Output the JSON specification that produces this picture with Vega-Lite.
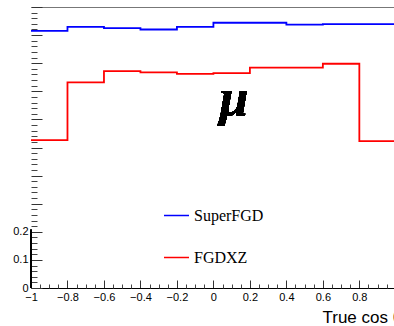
{
  "$schema": "https://vega.github.io/schema/vega-lite/v6.json",
  "autosize": "none",
  "width": 363,
  "height": 281,
  "padding": {"left": 31, "top": 7, "right": 0, "bottom": 38},
  "background": "white",
  "config": {"view": {"stroke": null}},
  "data": {
    "values": [
      {"series": "SuperFGD", "lo": -1.0, "hi": -0.8, "value": 0.915},
      {"series": "SuperFGD", "lo": -0.8, "hi": -0.6, "value": 0.929},
      {"series": "SuperFGD", "lo": -0.6, "hi": -0.4, "value": 0.925},
      {"series": "SuperFGD", "lo": -0.4, "hi": -0.2, "value": 0.920},
      {"series": "SuperFGD", "lo": -0.2, "hi": 0.0, "value": 0.929},
      {"series": "SuperFGD", "lo": 0.0, "hi": 0.2, "value": 0.944},
      {"series": "SuperFGD", "lo": 0.2, "hi": 0.4, "value": 0.944},
      {"series": "SuperFGD", "lo": 0.4, "hi": 0.6, "value": 0.937},
      {"series": "SuperFGD", "lo": 0.6, "hi": 0.8, "value": 0.939},
      {"series": "SuperFGD", "lo": 0.8, "hi": 1.0, "value": 0.939},
      {"series": "FGDXZ", "lo": -1.0, "hi": -0.8, "value": 0.526},
      {"series": "FGDXZ", "lo": -0.8, "hi": -0.6, "value": 0.732},
      {"series": "FGDXZ", "lo": -0.6, "hi": -0.4, "value": 0.772},
      {"series": "FGDXZ", "lo": -0.4, "hi": -0.2, "value": 0.767},
      {"series": "FGDXZ", "lo": -0.2, "hi": 0.0, "value": 0.762},
      {"series": "FGDXZ", "lo": 0.0, "hi": 0.2, "value": 0.765},
      {"series": "FGDXZ", "lo": 0.2, "hi": 0.4, "value": 0.784},
      {"series": "FGDXZ", "lo": 0.4, "hi": 0.6, "value": 0.784},
      {"series": "FGDXZ", "lo": 0.6, "hi": 0.8, "value": 0.798},
      {"series": "FGDXZ", "lo": 0.8, "hi": 1.0, "value": 0.523}
    ]
  },
  "layer": [
    {
      "transform": [{"fold": ["lo", "hi"], "as": ["edge", "x"]}],
      "mark": {"type": "line", "strokeWidth": 1.8, "clip": true},
      "encoding": {
        "x": {
          "field": "x", "type": "quantitative",
          "scale": {"domain": [-1, 0.99], "nice": false, "zero": false},
          "axis": {
            "orient": "bottom",
            "values": [-1, -0.8, -0.6, -0.4, -0.2, 0, 0.2, 0.4, 0.6, 0.8],
            "grid": false,
            "domain": true, "domainColor": "#000", "domainWidth": 1,
            "ticks": true, "tickColor": "#333", "tickWidth": 1, "tickSize": -8,
            "labelExpr": "replace(format(datum.value, '.2~f'), '-', '\u2212')",
            "labelFont": "Liberation Sans", "labelFontSize": 11, "labelColor": "#000",
            "labelPadding": 11, "labelOverlap": false, "labelFlush": false, "labelBound": false,
            "title": "True cos θ",
            "titleFont": "Liberation Sans", "titleFontSize": 17, "titleFontWeight": "normal", "titleColor": "#000",
            "titleAnchor": "start", "titleAlign": "left", "titleBaseline": "alphabetic",
            "titleX": 291, "titleY": 34
          }
        },
        "y": {
          "field": "value", "type": "quantitative",
          "scale": {"domain": [0, 1], "nice": false, "zero": true},
          "axis": {
            "orient": "left",
            "values": [0, 0.1, 0.2, 0.3, 0.4, 0.5, 0.6, 0.7, 0.8, 0.9, 1.0],
            "grid": false,
            "domain": false,
            "ticks": true, "tickColor": "#333", "tickWidth": 1, "tickSize": -11,
            "labelExpr": "datum.value <= 0.2001 ? format(datum.value, '.1~f') : ''",
            "labelFont": "Liberation Sans", "labelFontSize": 11, "labelColor": "#000",
            "labelPadding": 14, "labelOverlap": false, "labelFlush": false, "labelBound": false,
            "title": null
          }
        },
        "color": {
          "field": "series", "type": "nominal",
          "scale": {"domain": ["SuperFGD", "FGDXZ"], "range": ["#0000ff", "#ff0000"]},
          "legend": {
            "orient": "none", "legendX": 132, "legendY": 195,
            "title": null, "padding": 0,
            "symbolType": "stroke", "symbolSize": 625, "symbolStrokeWidth": 1.5,
            "labelFont": "Liberation Serif", "labelFontSize": 16, "labelColor": "#000",
            "labelOffset": 4, "rowPadding": 20
          }
        },
        "order": [{"field": "lo", "type": "quantitative"}, {"field": "x", "type": "quantitative"}]
      }
    },
    {
      "mark": {"type": "rule", "color": "#000", "strokeWidth": 1},
      "encoding": {
        "x": {"datum": -1, "type": "quantitative",
          "axis": {"orient": "top", "domain": true, "domainColor": "#777", "domainWidth": 1.2, "ticks": false, "labels": false, "grid": false, "title": null}},
        "y": {"datum": 0, "type": "quantitative",
          "axis": {
            "orient": "left",
            "values": [0.02,0.04,0.06,0.08,0.12,0.14,0.16,0.18,0.22,0.24,0.26,0.28,0.32,0.34,0.36,0.38,0.42,0.44,0.46,0.48,0.52,0.54,0.56,0.58,0.62,0.64,0.66,0.68,0.72,0.74,0.76,0.78,0.82,0.84,0.86,0.88,0.92,0.94,0.96,0.98],
            "grid": false, "domain": false, "labels": false, "title": null,
            "ticks": true, "tickColor": "#444", "tickWidth": 1, "tickSize": -6
          }},
        "y2": {"datum": 0.207}
      }
    },
    {
      "mark": {"type": "text", "font": "Liberation Serif", "fontStyle": "italic", "fontWeight": "bold", "fontSize": 52, "align": "center", "baseline": "alphabetic", "color": "#000"},
      "encoding": {
        "x": {"datum": 0.113, "type": "quantitative",
          "axis": {
            "orient": "bottom",
            "values": [-0.95,-0.9,-0.85,-0.75,-0.7,-0.65,-0.55,-0.5,-0.45,-0.35,-0.3,-0.25,-0.15,-0.1,-0.05,0.05,0.1,0.15,0.25,0.3,0.35,0.45,0.5,0.55,0.65,0.7,0.75,0.85,0.9,0.95],
            "grid": false, "domain": false, "labels": false, "title": null,
            "ticks": true, "tickColor": "#444", "tickWidth": 1, "tickSize": -4
          }},
        "y": {"datum": 0.616, "type": "quantitative", "axis": null},
        "text": {"value": "μ"}
      }
    }
  ],
  "resolve": {"axis": {"x": "independent", "y": "independent"}}
}
